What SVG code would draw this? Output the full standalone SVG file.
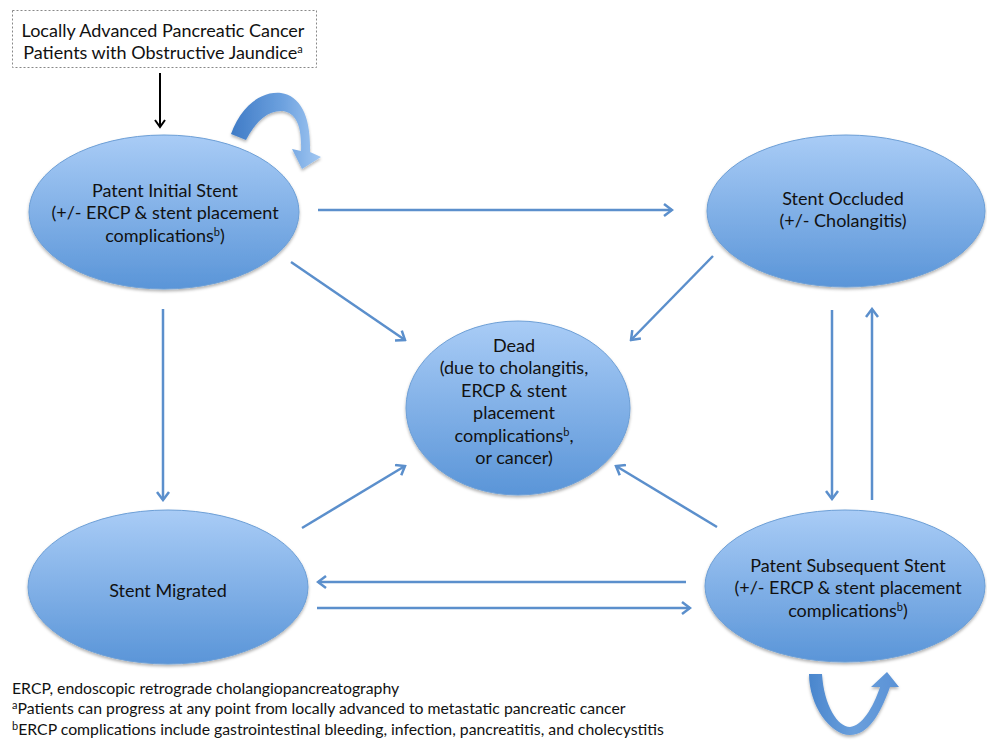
<svg xmlns="http://www.w3.org/2000/svg" width="987" height="743" viewBox="0 0 987 743">
<style>
  text { font-family: Lato, "Open Sans", "Liberation Sans", sans-serif; fill: #111; }
  .n { font-size: 18px; text-anchor: middle; }
  .fn { font-size: 15.8px; }
  .sup { font-size: 11px; }
  .node { fill: url(#eg); stroke: #6d9fd6; stroke-width: 1; filter: url(#sh); }
  .c line { stroke: #5b8fcc; stroke-width: 2.5; marker-end: url(#ah); }
</style>
<defs>
  <linearGradient id="eg" x1="0" y1="0" x2="0" y2="1">
    <stop offset="0" stop-color="#a9ccf6"/>
    <stop offset="1" stop-color="#5a95d8"/>
  </linearGradient>
  <linearGradient id="ga1" x1="0" y1="0" x2="1" y2="0">
    <stop offset="0" stop-color="#3f7bc6"/>
    <stop offset="0.6" stop-color="#6fa3e0"/>
    <stop offset="1" stop-color="#a3c8f2"/>
  </linearGradient>
  <linearGradient id="ga2" x1="0" y1="0" x2="1" y2="0">
    <stop offset="0" stop-color="#4a86cd"/>
    <stop offset="0.5" stop-color="#6a9fdc"/>
    <stop offset="1" stop-color="#5a92d6"/>
  </linearGradient>
  <filter id="sh" x="-10%" y="-10%" width="120%" height="125%">
    <feDropShadow dx="0" dy="2" stdDeviation="1.5" flood-color="#000" flood-opacity="0.3"/>
  </filter>
  <marker id="ah" viewBox="-10 -7 12 14" markerWidth="12" markerHeight="14" refX="0" refY="0" orient="auto" markerUnits="userSpaceOnUse">
    <path d="M-8,-6 L0,0 L-8,6" fill="none" stroke="#5b8fcc" stroke-width="2.5"/>
  </marker>
  <marker id="bh" viewBox="-10 -7 12 14" markerWidth="12" markerHeight="14" refX="0" refY="0" orient="auto" markerUnits="userSpaceOnUse">
    <path d="M-7,-5 L0,0 L-7,5" fill="none" stroke="#000" stroke-width="2"/>
  </marker>
</defs>
<rect width="987" height="743" fill="#fff"/>

<g id="start">
  <rect x="12.5" y="10.5" width="304" height="57" fill="#fff" stroke="#888" stroke-width="1" stroke-dasharray="2,2"/>
  <text x="163" y="37" class="n">Locally Advanced Pancreatic Cancer</text>
  <text x="163" y="59" class="n">Patients with Obstructive Jaundice<tspan class="sup" dy="-6">a</tspan></text>
</g>

<g id="initial">
  <ellipse class="node" cx="164" cy="212" rx="135" ry="77"/>
  <text x="165" y="197" class="n">Patent Initial Stent</text>
  <text x="165" y="219" class="n">(+/- ERCP &amp; stent placement</text>
  <text x="165" y="242" class="n">complications<tspan class="sup" dy="-6">b</tspan><tspan dy="6">)</tspan></text>
</g>

<g id="occluded">
  <ellipse class="node" cx="846" cy="211" rx="139" ry="76"/>
  <text x="843" y="205" class="n">Stent Occluded</text>
  <text x="843" y="227" class="n">(+/- Cholangitis)</text>
</g>

<g id="dead">
  <ellipse class="node" cx="518" cy="408" rx="112" ry="87"/>
  <text x="514" y="352" class="n">Dead</text>
  <text x="514" y="374" class="n">(due to cholangitis,</text>
  <text x="514" y="397" class="n">ERCP &amp; stent</text>
  <text x="514" y="419" class="n">placement</text>
  <text x="514" y="442" class="n">complications<tspan class="sup" dy="-6">b</tspan><tspan dy="6">,</tspan></text>
  <text x="514" y="464" class="n">or cancer)</text>
</g>

<g id="migrated">
  <ellipse class="node" cx="168" cy="587" rx="140" ry="77"/>
  <text x="168" y="597" class="n">Stent Migrated</text>
</g>

<g id="subsequent">
  <ellipse class="node" cx="845" cy="586" rx="140" ry="76"/>
  <text x="848" y="572" class="n">Patent Subsequent Stent</text>
  <text x="848" y="594" class="n">(+/- ERCP &amp; stent placement</text>
  <text x="848" y="617" class="n">complications<tspan class="sup" dy="-6">b</tspan><tspan dy="6">)</tspan></text>
</g>

<g id="connectors" class="c">
  <line x1="160" y1="73" x2="160" y2="127" style="stroke:#000;stroke-width:2;marker-end:url(#bh)"/>
  <line x1="318" y1="210" x2="672" y2="210"/>
  <line x1="291" y1="262" x2="405" y2="340"/>
  <line x1="713" y1="256" x2="631" y2="340"/>
  <line x1="163" y1="309" x2="163" y2="500"/>
  <line x1="302" y1="528" x2="405" y2="466"/>
  <line x1="717" y1="527" x2="616" y2="466"/>
  <line x1="832" y1="310" x2="832" y2="499"/>
  <line x1="872" y1="500" x2="872" y2="309"/>
  <line x1="686" y1="582" x2="318" y2="582"/>
  <line x1="317" y1="608" x2="690" y2="608"/>
  <path id="loop1" d="M231,134 C241,106 261,91 281,93 C301,96 311,117 310,152 L321,157 L302,169 L292,149 L301,151 C302,126 296,113 283,111 C268,110 256,121 246,140 Z" fill="url(#ga1)" filter="url(#sh)"/>
  <path id="loop2" d="M809,674 C809,705 830,735 850,735 C868,735 880,715 890,687 L899,687 L887,672 L871,687 L880,687 C873,708 862,726 850,727 C838,727 824,706 822,674 Z" fill="url(#ga2)" filter="url(#sh)"/>
</g>

<g id="footnotes">
  <text x="12" y="694" class="fn">ERCP, endoscopic retrograde cholangiopancreatography</text>
  <text x="12" y="714" class="fn"><tspan class="sup" dy="-5">a</tspan><tspan dy="5">Patients can progress at any point from locally advanced to metastatic pancreatic cancer</tspan></text>
  <text x="12" y="735" class="fn"><tspan class="sup" dy="-5">b</tspan><tspan dy="5">ERCP complications include gastrointestinal bleeding, infection, pancreatitis, and cholecystitis</tspan></text>
</g>
</svg>
